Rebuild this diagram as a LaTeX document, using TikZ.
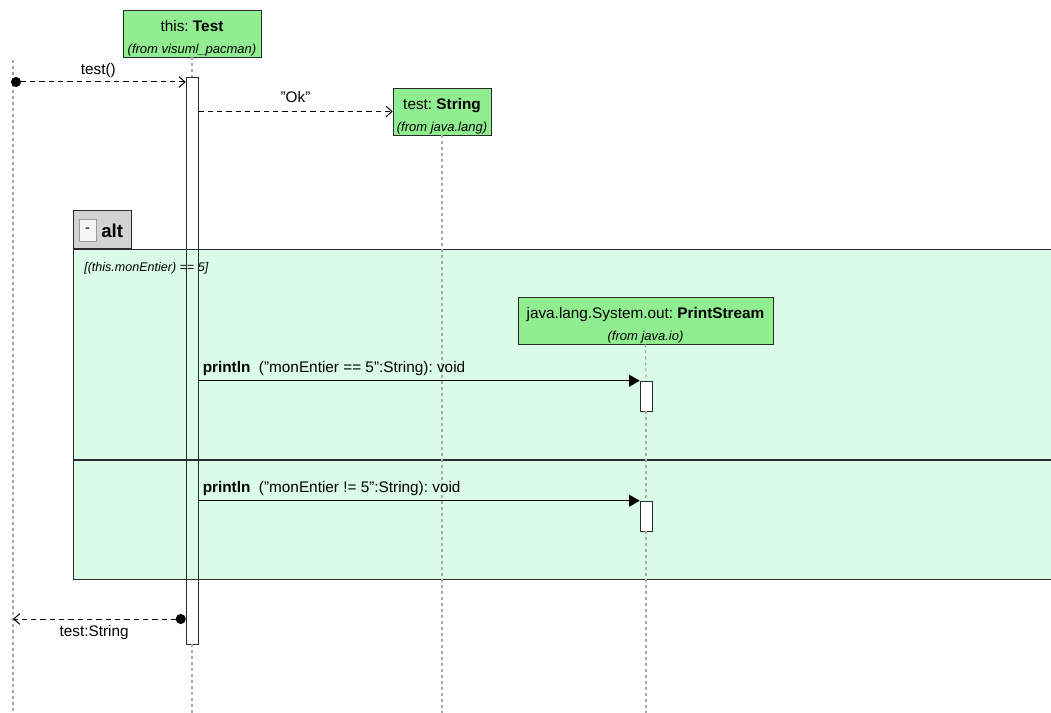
\documentclass[tikz,border=0pt]{standalone}
\usepackage{fontspec}
\setmainfont{Liberation Sans}
\usetikzlibrary{arrows.meta,positioning,calc}
\definecolor{ObjGreen}{HTML}{90EE90}
\definecolor{AltGreen}{HTML}{D9FBE7}
\definecolor{TabGray}{HTML}{D3D3D3}
\definecolor{Edge}{HTML}{2B2B2B}
\definecolor{LifeGray}{HTML}{A8A8A8}
\newcommand{\fromnote}[1]{{\fontsize{9.75}{12}\selectfont\itshape(from #1)}}
\frenchspacing
\tikzset{
  objbox/.style={draw=Edge, fill=ObjGreen, minimum width=#1, minimum height=35.25pt,
    inner sep=0pt, align=center, font=\fontsize{11.5}{16.5}\selectfont},
  objbox/.default={103.5pt},
  actbar/.style={draw=Edge, fill=#1, minimum width=9pt, inner sep=0pt},
  actbar/.default={white},
  lifeline/.style={LifeGray, line width=0.9pt, dash pattern=on 2.25pt off 2.25pt},
  msglbl/.style={font=\fontsize{11.5}{13}\selectfont, inner sep=1pt},
  callmsg/.style={{Circle[length=7.5pt]}-{Straight Barb[length=4.5pt,width=8pt]},
    line width=0.75pt, dash pattern=on 4pt off 3pt},
  createmsg/.style={-{Straight Barb[length=4.5pt,width=8pt]},
    line width=0.75pt, dash pattern=on 4pt off 3pt},
  syncmsg/.style={-{Triangle[length=8pt,width=9pt]}, line width=0.75pt},
}

\begin{document}
\begin{tikzpicture}[
  x=0.75pt, y=-0.75pt,
  altframe/.style={draw=Edge, fill=AltGreen, line width=0.75pt, inner sep=0pt},
  guardtxt/.style={font=\fontsize{9.4}{11}\selectfont\itshape, inner sep=0pt},
]
  \useasboundingbox (0,0) rectangle (1051,713);

  % combined fragment
  \node[altframe, anchor=north west, minimum width=740pt, minimum height=247.5pt] (alt) at (73,249) {};
  \node[draw=Edge, fill=TabGray, line width=0.75pt, anchor=south west,
    minimum width=43.5pt, minimum height=28.5pt, inner sep=0pt] (alttab) at (alt.north west) {};
  \node[draw=gray!80, fill=gray!8, minimum width=12.75pt, minimum height=16.5pt,
    inner sep=0pt, font=\fontsize{11}{12}\selectfont] (altbtn) at (87.5,230) {-};
  \node[anchor=west, inner sep=0pt, font=\fontsize{14}{16}\selectfont\bfseries] (altlbl) at (101,231) {alt};
  \node[guardtxt, anchor=west] (guard1) at (84,268) {[(this.monEntier) == 5]};
  \draw[Edge, line width=1.6pt] (alt.west |- 0,460) -- (alt.east |- 0,460);

  % objects
  \node[objbox] (this) at (192,33.5)
    {\rule{0pt}{15pt}this: \textbf{Test}\\ \fromnote{visuml\_pacman}};
  \node[objbox=73.5pt] (str) at (442,111.5)
    {\rule{0pt}{15pt}test: \textbf{String}\\ \fromnote{java.lang}};
  \node[objbox=191.25pt] (ps) at (645.5,320.5)
    {\rule{0pt}{15pt}java.lang.System.out: \textbf{PrintStream}\\ \fromnote{java.io}};

  % activations
  \node[actbar=none, minimum height=425.25pt] (thisact) at (192,360.5) {};
  \node[actbar, minimum height=22.5pt] (act1) at (646,396) {};
  \node[actbar, minimum height=22.5pt] (act2) at (646,516) {};

  % lifelines
  \coordinate (usertop) at (13,60);
  \coordinate (userend) at (13,713);
  \coordinate (thisend) at (192,713);
  \coordinate (strend) at (442,713);
  \coordinate (psend) at (646,713);
  \draw[lifeline] (usertop) -- (userend);
  \draw[lifeline] (this.south) -- (thisact.north);
  \draw[lifeline] (thisact.south) -- (thisend);
  \draw[lifeline] (str.south) -- (strend);
  \draw[lifeline] (ps.south) -- (act1.north);
  \draw[lifeline] (act1.south) -- (act2.north);
  \draw[lifeline] (act2.south) -- (psend);

  % messages
  \coordinate (callsrc) at (11,82);
  \coordinate (retdst) at (13,619);
  \draw[callmsg] (callsrc) -- node[msglbl, above, yshift=1.5pt] (lbltest) {test()} (thisact.west |- callsrc);
  \draw[createmsg] (thisact.east |- str.west) -- node[msglbl, above, yshift=5.5pt] (lblok) {"Ok"} (str.west);
  \draw[syncmsg] (thisact.east |- act1.north) --
    node[msglbl, anchor=base west, pos=0, xshift=2pt, yshift=6.5pt] (lbl1)
    {\textbf{println}\ \ ("monEntier == 5":String): void} (act1.north west);
  \draw[syncmsg] (thisact.east |- act2.north) --
    node[msglbl, anchor=base west, pos=0, xshift=2pt, yshift=6.5pt] (lbl2)
    {\textbf{println}\ \ ("monEntier != 5":String): void} (act2.north west);
  \draw[callmsg] (thisact.west |- retdst) -- node[msglbl, below, pos=0.53, yshift=-3.5pt] (lblret) {test:String} (retdst);
\end{tikzpicture}
\end{document}
